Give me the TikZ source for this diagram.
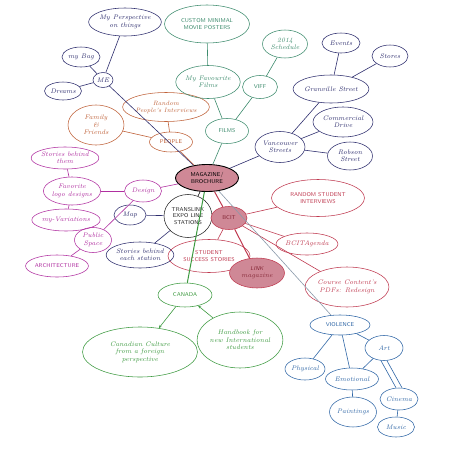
\documentclass[tikz,border=0pt]{standalone}
\usetikzlibrary{shapes.geometric,arrows.meta}
\pgfdeclarelayer{background}
\pgfsetlayers{background,main}
\definecolor{navy}{HTML}{2E2E6E}
\definecolor{orng}{HTML}{C0623A}
\definecolor{filmg}{HTML}{3E8C6E}
\definecolor{mgnt}{HTML}{B02FA0}
\definecolor{rdd}{HTML}{C03A50}
\definecolor{cang}{HTML}{3D9A40}
\definecolor{vblue}{HTML}{2F66A6}
\definecolor{grayln}{HTML}{8A9AAA}
\definecolor{pinkf}{HTML}{CF8896}
\definecolor{glow}{HTML}{E3A5B0}
\begin{document}
\begin{tikzpicture}[x=1pt,y=-1pt,
  bub/.style={ellipse, draw, line width=0.55pt, inner sep=0pt, align=center,
    font=\fontsize{6.6}{7.4}\selectfont\itshape},
  caps/.style={font=\fontsize{5.6}{6.9}\selectfont\sffamily},
  sz/.style 2 args={minimum width=#1pt, minimum height=#2pt},
  nv/.style={bub, draw=navy, text=navy},
  og/.style={bub, draw=orng, text=orng},
  fg/.style={bub, draw=filmg, text=filmg},
  mg/.style={bub, draw=mgnt, text=mgnt},
  rd/.style={bub, draw=rdd, text=rdd},
  cg/.style={bub, draw=cang, text=cang},
  bl/.style={bub, draw=vblue, text=vblue},
  ln/.style={line width=0.6pt},
  hot/.style={fill=pinkf, text=rdd!70!black},
  arr/.style={-{Stealth[length=3pt,width=2.5pt]}}
]
\useasboundingbox (0,0) rectangle (450,450);
\fill[white] (0,0) rectangle (450,450);

% ME cluster
\node[nv, sz={62}{28}] (persp) at (125,22) {My Perspective\\on things};
\node[nv, sz={38}{20}] (bag) at (81,57) {my Bag};
\node[nv, sz={20}{15}] (me) at (103,80) {ME};
\node[nv, sz={37}{18}] (dreams) at (63,91) {Dreams};

% central
\node[bub, draw=black, line width=0.9pt, fill=pinkf, sz={63}{27}, caps, text=black] (mag) at (207,178) {MAGAZINE/\\BROCHURE};

% people
\node[og, sz={78}{29}, font=\fontsize{6.2}{7}\selectfont\itshape] (randp) at (166,107) {Random\\People's Interviews};
\node[og, sz={56}{40}] (family) at (96,125) {Family\\\&\\Friends};
\node[og, caps, sz={43}{20}] (people) at (171,142) {PEOPLE};

% films
\node[fg, caps, sz={85}{38}] (posters) at (207,24) {CUSTOM MINIMAL\\MOVIE POSTERS};
\node[fg, sz={53}{33}] (fav) at (208,82) {My Favourite\\Films};
\node[fg, sz={45}{28}] (sched) at (285,44) {2014\\Schedule};
\node[fg, caps, sz={35}{23}] (viff) at (260,87) {VIFF};
\node[fg, caps, sz={43}{25}] (films) at (227,131) {FILMS};

% Vancouver streets
\node[nv, sz={38}{20}] (events) at (341,43) {Events};
\node[nv, sz={36}{22}] (stores) at (390,56) {Stores};
\node[nv, sz={73}{28}] (granville) at (331,89) {Granville Street};
\node[nv, sz={60}{30}] (commercial) at (343,122) {Commercial\\Drive};
\node[nv, sz={45}{28}] (robson) at (350,156) {Robson\\Street};
\node[nv, sz={50}{31}] (vanc) at (280,147) {Vancouver\\Streets};

% design
\node[mg, sz={60}{22}] (sthem) at (65,158) {Stories behind\\them};
\node[mg, sz={47}{28}] (logo) at (72,191) {Favorite\\logo designs};
\node[mg, sz={68}{22}] (myvar) at (66,220) {my-Variations};
\node[mg, sz={37}{22}] (design) at (143,191) {Design};
\node[mg, sz={37}{25}] (public) at (93,240) {Public\\Space};
\node[mg, caps, sz={55}{22}] (arch) at (57,266) {ARCHITECTURE};

% translink
\node[nv, sz={32}{20}] (map) at (130,215) {Map};
\node[bub, draw=black!85, text=black!85, caps, sz={48}{43}] (trans) at (188,216) {TRANSLINK\\EXPO LINE\\STATIONS};
\node[nv, sz={64}{26}] (stories) at (140,255) {Stories behind\\each station};

% BCIT
\node[rd, caps, hot, sz={36}{23}] (bcit) at (229,218) {BCIT};
\node[rd, caps, sz={82}{33}] (success) at (209,256) {STUDENT\\SUCCESS STORIES};
\node[rd, hot, sz={55}{30}] (link) at (257,273) {{\sffamily\fontsize{5.6}{6.9}\selectfont LINK}\\magazine};
\node[rd, caps, sz={93}{37}] (rsi) at (318,198) {RANDOM STUDENT\\INTERVIEWS};
\node[rd, sz={60}{22}] (agenda) at (307,244) {BCITAgenda};
\node[rd, sz={79}{40}] (course) at (347,287) {Course Content's\\PDFs: Redesign};

% Canada
\node[cg, caps, sz={54}{24}] (canada) at (185,295) {CANADA};
\node[cg, sz={115}{50}] (culture) at (140,352) {Canadian Culture\\from a foreign\\perspective};
\node[cg, sz={84}{56}] (handbook) at (240,340) {Handbook for\\new International\\students};

% violence
\node[bl, caps, sz={60}{20}] (violence) at (340,325) {VIOLENCE};
\node[bl, sz={38}{25}] (art) at (384,348) {Art};
\node[bl, sz={40}{22}] (physical) at (305,369) {Physical};
\node[bl, sz={53}{22}] (emotional) at (352,379) {Emotional};
\node[bl, sz={47}{30}] (paintings) at (353,412) {Paintings};
\node[bl, sz={38}{22}] (cinema) at (399,399) {Cinema};
\node[bl, sz={37}{20}] (music) at (396,427) {Music};

% glow
\begin{pgfonlayer}{background}
  \draw[glow, line width=12pt, opacity=0.35, line cap=round] (mag.center) -- (bcit.center) -- (link.center);
  \fill[glow, opacity=0.3] (mag.center) ellipse (43pt and 22pt);
  \fill[glow, opacity=0.4] (mag.center) ellipse (37pt and 17pt);
  \fill[glow, opacity=0.35] (bcit.center) ellipse (25pt and 17pt);
  \fill[glow, opacity=0.35] (link.center) ellipse (35pt and 21pt);
\end{pgfonlayer}

% connectors
\begin{scope}[ln, navy]
  \draw (me) -- (persp);
  \draw (me) -- (bag);
  \draw (me) -- (dreams);
  \draw (me) -- (mag);
  \draw (events) -- (granville);
  \draw (stores) -- (granville);
  \draw (granville) -- (vanc);
  \draw (commercial) -- (vanc);
  \draw (robson) -- (vanc);
  \draw (vanc) -- (mag);
  \draw (map) -- (trans);
  \draw (stories) -- (trans);
  \draw[black] (trans) -- (mag);
\end{scope}
\begin{scope}[ln, orng]
  \draw (people) -- (randp);
  \draw (people) -- (family);
  \draw (people) -- (mag);
\end{scope}
\begin{scope}[ln, filmg]
  \draw (posters) -- (fav);
  \draw (fav) -- (films);
  \draw (sched) -- (viff);
  \draw (viff) -- (films);
  \draw (films) -- (mag);
\end{scope}
\begin{scope}[ln, mgnt]
  \draw (sthem) -- (logo);
  \draw (logo) -- (myvar);
  \draw (logo) -- (design);
  \draw (design) -- (public);
  \draw (public) -- (arch);
  \draw (design) -- (mag);
\end{scope}
\begin{scope}[ln, rdd]
  \draw[line width=1pt] (mag) -- (bcit);
  \draw[line width=1pt] (bcit) -- (link);
  \draw (bcit) -- (rsi);
  \draw (bcit) -- (agenda);
  \draw (bcit) -- (course);
  \draw (bcit) -- (success);
\end{scope}
\draw[ln, grayln] (mag) -- (violence);
\begin{scope}[ln, cang]
  \draw[line width=1pt] (mag) -- (canada);
  \draw[arr] (canada) -- (culture);
  \draw[arr] (handbook) -- (canada);
\end{scope}
\begin{scope}[ln, vblue]
  \draw (violence) -- (physical);
  \draw (violence) -- (emotional);
  \draw (violence) -- (art);
  \draw (art) -- (emotional);
  \draw ([xshift=-3pt]art.south) -- ([xshift=-3pt]cinema.north);
  \draw ([xshift=3pt]art.south) -- ([xshift=3pt]cinema.north);
  \draw (cinema) -- (music);
  \draw (emotional) -- (paintings);
\end{scope}
\end{tikzpicture}
\end{document}
